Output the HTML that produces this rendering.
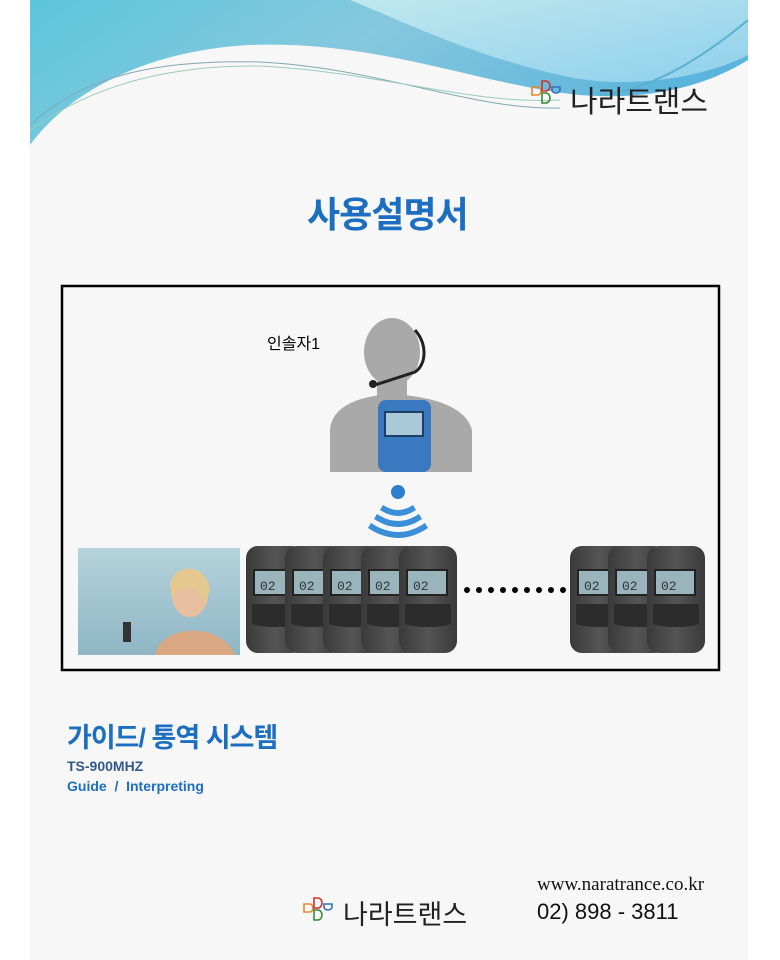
<!DOCTYPE html>
<html><head><meta charset="utf-8"><style>
html,body{margin:0;padding:0;background:#fff;}
body{width:780px;height:960px;position:relative;overflow:hidden;font-family:"Liberation Sans","Noto Sans CJK KR",sans-serif;}
.t{position:absolute;white-space:nowrap;}
</style></head><body>
<svg width="780" height="960" style="position:absolute;left:0;top:0">
<defs>
<linearGradient id="g1" x1="0" y1="0" x2="1" y2="0.3"><stop offset="0" stop-color="#5cc6dc"/><stop offset="0.5" stop-color="#86c8de"/><stop offset="1" stop-color="#5ab4dc"/></linearGradient>
<linearGradient id="g2" x1="0" y1="0" x2="1" y2="1"><stop offset="0" stop-color="#bfe8ee"/><stop offset="1" stop-color="#8fd0ec"/></linearGradient>
<linearGradient id="dev" x1="0" y1="0" x2="1" y2="0"><stop offset="0" stop-color="#3a3a3a"/><stop offset="0.5" stop-color="#555"/><stop offset="1" stop-color="#3a3a3a"/></linearGradient>
<linearGradient id="ph" x1="0" y1="0" x2="0" y2="1"><stop offset="0" stop-color="#b5d3dc"/><stop offset="1" stop-color="#8fb6c4"/></linearGradient>
<g id="d">
<rect x="0" y="0" width="58" height="107" rx="12" fill="url(#dev)"/>
<rect x="8" y="24" width="40" height="25" fill="#9ab4bc" stroke="#222" stroke-width="2"/>
<text x="14" y="44" font-size="13" fill="#333" font-family="Liberation Mono">02</text>
<path d="M6 58 H52 V78 C40 82 18 82 6 78Z" fill="#2c2c2c"/>
</g>
<g id="lg" fill="none" stroke-width="1.6">
<path d="M0 6 h6 a3 4 0 0 1 0 8 h-6z" stroke="#e08a30"/>
<path d="M10 0 h4 a4 5 0 0 1 0 10 h-4z" stroke="#d03030"/>
<path d="M20 6 h8 v3 a4 3 0 0 1 -8 0z" stroke="#3070c0"/>
<path d="M10 12 h4 a4 5 0 0 1 0 10 h-4z" stroke="#3a8a3a"/>
</g>
</defs>
<rect x="30" y="0" width="718" height="960" fill="#f7f7f7"/>
<path d="M30 0 H748 V60 C700 90 640 100 580 95 C480 85 380 40 250 45 C150 50 70 90 30 145 Z" fill="url(#g1)"/>
<path d="M350 0 H748 V55 C700 80 620 90 560 75 C470 55 400 20 350 0 Z" fill="url(#g2)"/>
<path d="M30 125 C90 70 170 60 260 62 C380 68 470 110 560 108" stroke="#7fa9b4" stroke-width="1" fill="none"/>
<path d="M30 130 C100 80 180 65 260 66 C380 72 470 105 560 100" stroke="#9cb" stroke-width="1" fill="none"/>
<path d="M600 95 C650 90 700 60 748 20" stroke="#5ab0d0" stroke-width="2" fill="none"/>
<rect x="62" y="286" width="657" height="384" fill="#f7f7f7" stroke="#000" stroke-width="2.5"/>
<ellipse cx="392" cy="352" rx="28" ry="34" fill="#a9a9a9"/>
<rect x="377" y="375" width="30" height="30" fill="#a9a9a9"/>
<path d="M330 472 V430 C332 405 360 398 380 395 H405 C430 398 465 405 472 430 V472 Z" fill="#a9a9a9"/>
<path d="M415 330 C428 345 426 365 415 372 L375 385" stroke="#222" stroke-width="3" fill="none"/>
<circle cx="373" cy="384" r="4" fill="#222"/>
<rect x="378" y="400" width="53" height="72" rx="8" fill="#3a78c0"/>
<rect x="385" y="412" width="38" height="24" fill="#aac8d8" stroke="#1b3f66" stroke-width="2"/>
<circle cx="398" cy="492" r="7" fill="#2a7fd0"/>
<path d="M383 505 Q398 515 413 505 L416 510 Q398 522 380 510Z" fill="#3a8fd8"/>
<path d="M377 514 Q398 528 419 514 L422 519 Q398 535 374 519Z" fill="#3a8fd8"/>
<path d="M371 523 Q398 541 425 523 L428 528 Q398 548 368 528Z" fill="#3a8fd8"/>
<rect x="78" y="548" width="162" height="107" fill="url(#ph)"/>
<ellipse cx="190" cy="595" rx="18" ry="22" fill="#e8c0a0"/>
<path d="M170 585 C172 565 205 560 210 590 L205 605 C200 585 180 580 172 600Z" fill="#e5c890"/>
<path d="M155 655 C160 625 220 620 235 655Z" fill="#d9a883"/>
<rect x="123" y="622" width="8" height="20" fill="#333"/>
<use href="#d" x="246" y="546"/><use href="#d" x="285" y="546"/><use href="#d" x="323" y="546"/><use href="#d" x="361" y="546"/><use href="#d" x="399" y="546"/>
<use href="#d" x="570" y="546"/><use href="#d" x="608" y="546"/><use href="#d" x="647" y="546"/>
<g fill="#000"><circle cx="467" cy="590" r="3"/><circle cx="479" cy="590" r="3"/><circle cx="491" cy="590" r="3"/><circle cx="503" cy="590" r="3"/><circle cx="515" cy="590" r="3"/><circle cx="527" cy="590" r="3"/><circle cx="539" cy="590" r="3"/><circle cx="551" cy="590" r="3"/><circle cx="563" cy="590" r="3"/></g>
<use href="#lg" x="532" y="81"/>
<use href="#lg" x="304" y="898"/>
</svg>
<div class="t" style="left:570px;top:77px;font-size:30px;color:#222;">나라트랜스</div>
<div class="t" style="left:307px;top:186px;font-size:36px;font-weight:bold;color:#1c6fc0;letter-spacing:-1px;">사용설명서</div>
<div class="t" style="left:267px;top:330px;font-size:16px;color:#000;">인솔자1</div>
<div class="t" style="left:67px;top:716px;font-size:27px;font-weight:bold;color:#1c6fc0;letter-spacing:-1px;">가이드/ 통역 시스템</div>
<div class="t" style="left:67px;top:758px;font-size:14px;color:#34588a;font-weight:bold;">TS-900MHZ</div>
<div class="t" style="left:67px;top:778px;font-size:14px;color:#1c6fc0;font-weight:bold;">Guide &nbsp;/ &nbsp;Interpreting</div>
<div class="t" style="left:343px;top:893px;font-size:27px;color:#222;">나라트랜스</div>
<div class="t" style="left:537px;top:874px;font-size:19px;color:#111;font-family:'Liberation Serif',serif;">www.naratrance.co.kr</div>
<div class="t" style="left:537px;top:899px;font-size:22px;color:#111;">02) 898 - 3811</div>
</body></html>
